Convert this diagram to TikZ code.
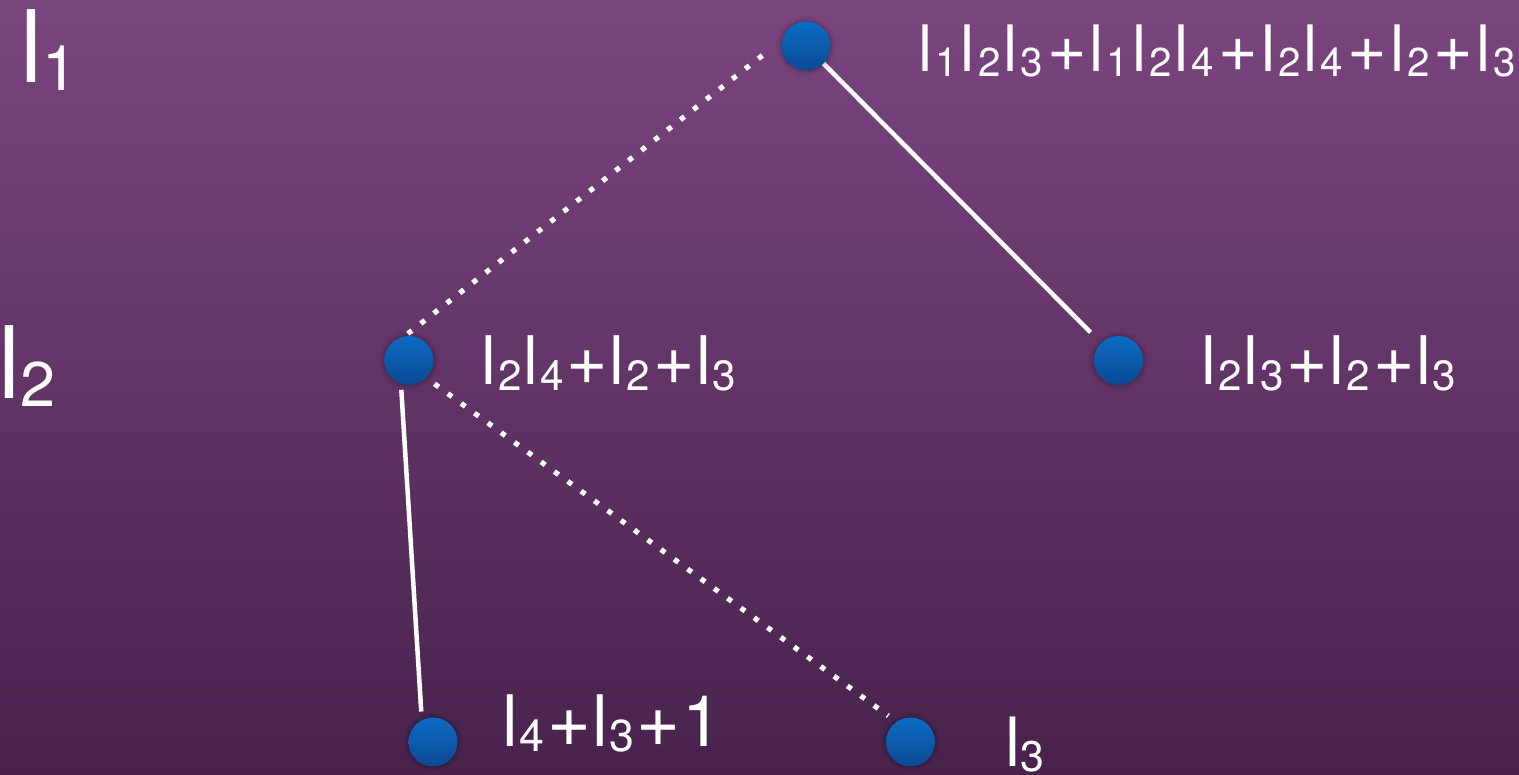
\documentclass[tikz,border=0pt]{standalone}
\usepackage{fontspec}
\setmainfont{TeX Gyre Heros}
\usepackage{graphicx}
\usetikzlibrary{backgrounds,shadows.blur}
\definecolor{bgtop}{HTML}{7B457F}
\definecolor{bgbot}{HTML}{48224D}
\definecolor{balltop}{HTML}{0A6BC3}
\definecolor{ballbot}{HTML}{0C4A94}
\newlength\trk
\setlength\trk{0pt}
\newcommand\Ls[1]{l\kern\trk\raisebox{-0.075em}{\scalebox{0.63}{#1}}\kern\trk}
\newcommand\Pl{\kern0.02em\scalebox{1.06}{+}\kern\trk}
\begin{document}
\begin{tikzpicture}[x=1pt,y=-1pt,
  ball/.style={circle, minimum size=49pt, inner sep=0pt, draw=none,
    top color=balltop, bottom color=ballbot,
    blur shadow={shadow xshift=0pt, shadow yshift=0pt, shadow blur radius=5pt, shadow opacity=45}},
  txt/.style={text=white, inner sep=0pt, anchor=base west},
  solidline/.style={white, line width=4.5pt},
  dotline/.style={white, line width=5.2pt, dash pattern=on 5.2pt off 11.3pt},
]
\useasboundingbox (0,0) rectangle (1519,775);

\node[ball] (top) at (806,46) {};
\node[ball] (mid) at (409,360.5) {};
\node[ball] (rgt) at (1118.5,360.5) {};
\node[ball] (bl) at (433,742) {};
\node[ball] (br) at (910.5,742) {};

\node[txt, font=\fontsize{100}{100}\selectfont] (lv1) at (20.3,83) {\Ls{1}};
\node[txt, font=\fontsize{100}{100}\selectfont] (lv2) at (-1.7,399) {\Ls{2}};

\node[txt, font=\fontsize{64}{64}\selectfont] (ltop) at (918.2,72)
  {\setlength\trk{0.046em}\Ls{1}\Ls{2}\Ls{3}\Pl\Ls{1}\Ls{2}\Ls{4}\Pl\Ls{2}\Ls{4}\Pl\Ls{2}\Pl\Ls{3}};
\node[txt, font=\fontsize{67}{67}\selectfont] (lmid) at (481.5,385)
  {\setlength\trk{0.026em}\Ls{2}\Ls{4}\Pl\Ls{2}\Pl\Ls{3}};
\node[txt, font=\fontsize{67}{67}\selectfont] (lrgt) at (1201.5,385)
  {\setlength\trk{0.026em}\Ls{2}\Ls{3}\Pl\Ls{2}\Pl\Ls{3}};
\node[txt, font=\fontsize{71}{71}\selectfont] (lbl) at (502.2,746)
  {\setlength\trk{0.018em}\Ls{4}\Pl\Ls{3}\Pl 1};
\node[txt, font=\fontsize{68}{68}\selectfont] (lbr) at (1005.4,766)
  {\Ls{3}};

\begin{scope}[on background layer]
  \shade[top color=bgtop, bottom color=bgbot] (0,0) rectangle (1519,775);
  \draw[dotline, shorten <=25pt] (top.166) -- (mid.100);
  \draw[solidline, shorten >=15pt] (top) -- (rgt);
  \draw[solidline, shorten <=6pt, shorten >=8.5pt] (mid.251) -- (bl.117);
  \draw[dotline, shorten <=10pt, shorten >=10pt] (mid.-45) -- (br.125);
\end{scope}
\end{tikzpicture}
\end{document}
